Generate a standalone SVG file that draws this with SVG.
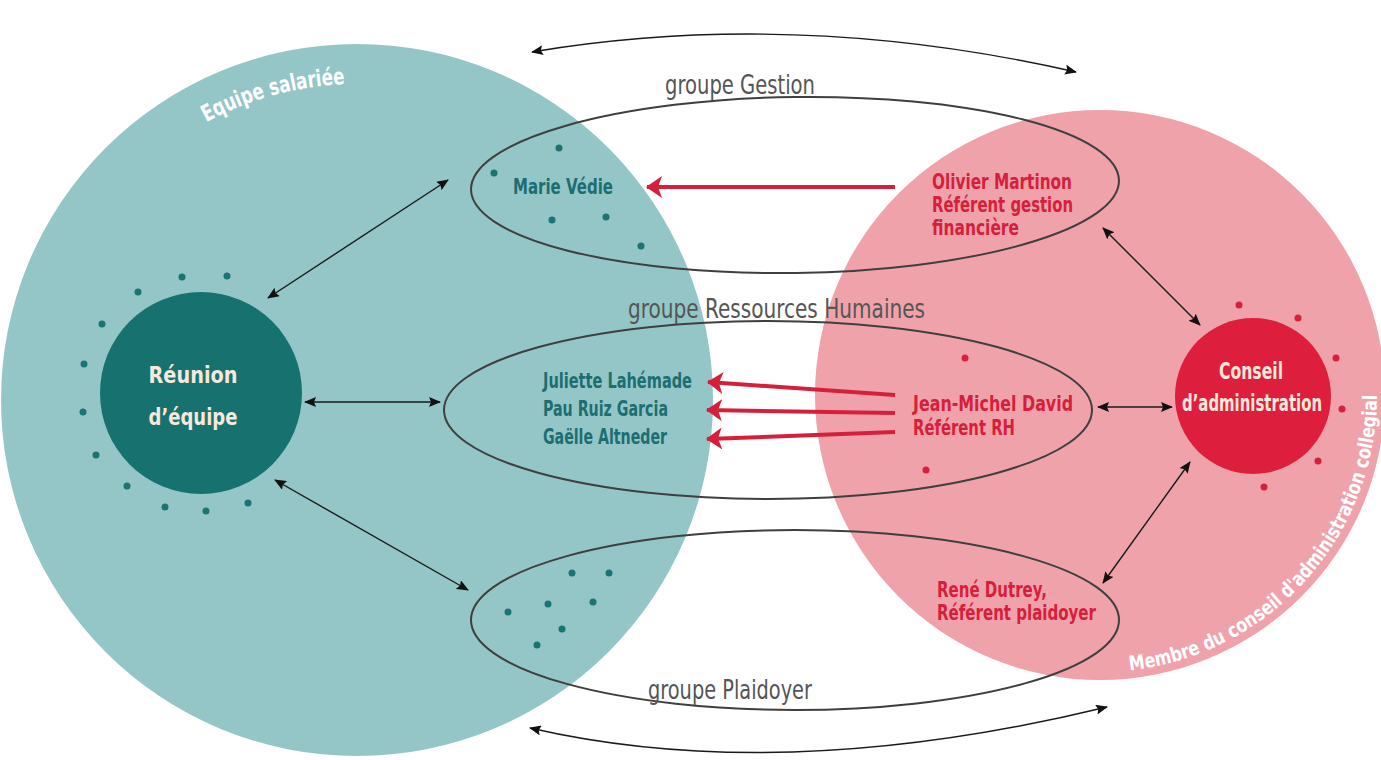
<svg xmlns="http://www.w3.org/2000/svg" width="1381" height="760" viewBox="0 0 1381 760">
<style>
.cond{font-family:"DejaVu Sans Condensed","DejaVu Sans",sans-serif;font-stretch:condensed}
.b{font-weight:bold}
.tealtxt{fill:#1d6e70;font-size:22px}
.redtxt{fill:#d6203b;font-size:21px}
.grp{fill:#555;font-size:27px}
.cream{fill:#f6e8da;font-size:23px}
.white{fill:#ffffff}
.ell{fill:none;stroke:#3f3f3f;stroke-width:2}
.con{fill:none;stroke:#1a1a1a;stroke-width:1.4}
.red{fill:none;stroke:#d6203b;stroke-width:4}
.tdot{fill:#1d7272}
.rdot{fill:#d81f3d}
</style>
<defs>
<marker id="ah" viewBox="0 0 12 10" refX="11" refY="5" markerWidth="12" markerHeight="10" markerUnits="userSpaceOnUse" orient="auto-start-reverse">
<path d="M0,0 L12,5 L0,10 L2,5 Z" fill="#111"/>
</marker>
<marker id="rh" viewBox="0 0 16 22" refX="15" refY="11" markerWidth="16" markerHeight="22" markerUnits="userSpaceOnUse" orient="auto">
<path d="M0,0 L16,11 L0,22 L4,11 Z" fill="#d6203b"/>
</marker>
<path id="arcTeam" d="M41,400 A316,316 0 0 1 673,400"/>
<path id="arcBoard" d="M1100,672 A277,277 0 0 0 1100,118"/>
</defs>

<g id="equipe-salariee">
<circle cx="357" cy="400" r="356" fill="#94c6c8"/>
<text class="cond b white" font-size="23"><textPath href="#arcTeam" startOffset="339" textLength="145" lengthAdjust="spacingAndGlyphs">Equipe salariée</textPath></text>
</g>

<g id="conseil-membres">
<circle cx="1100" cy="395" r="285" fill="#f0a2ab"/>
<text class="cond b white" font-size="20"><textPath href="#arcBoard" startOffset="30" textLength="405" lengthAdjust="spacingAndGlyphs">Membre du conseil d'administration collegial</textPath></text>
</g>

<g id="dots">
<circle class="tdot" cx="182" cy="277" r="3.5"/><circle class="tdot" cx="227" cy="276" r="3.5"/>
<circle class="tdot" cx="138" cy="292" r="3.5"/><circle class="tdot" cx="102" cy="324" r="3.5"/>
<circle class="tdot" cx="84" cy="364" r="3.5"/><circle class="tdot" cx="83" cy="412" r="3.5"/>
<circle class="tdot" cx="96" cy="455" r="3.5"/><circle class="tdot" cx="127" cy="486" r="3.5"/>
<circle class="tdot" cx="165" cy="507" r="3.5"/><circle class="tdot" cx="206" cy="511" r="3.5"/>
<circle class="tdot" cx="248" cy="503" r="3.5"/>
<circle class="tdot" cx="559" cy="148" r="3.5"/><circle class="tdot" cx="494" cy="173" r="3.5"/>
<circle class="tdot" cx="552" cy="220" r="3.5"/><circle class="tdot" cx="606" cy="217" r="3.5"/>
<circle class="tdot" cx="641" cy="246" r="3.5"/>
<circle class="tdot" cx="572" cy="573" r="3.5"/><circle class="tdot" cx="609" cy="573" r="3.5"/>
<circle class="tdot" cx="548" cy="604" r="3.5"/><circle class="tdot" cx="593" cy="602" r="3.5"/>
<circle class="tdot" cx="508" cy="612" r="3.5"/><circle class="tdot" cx="562" cy="629" r="3.5"/>
<circle class="tdot" cx="537" cy="645" r="3.5"/>
<circle class="rdot" cx="1239" cy="305" r="3.5"/><circle class="rdot" cx="1298" cy="318" r="3.5"/>
<circle class="rdot" cx="1336" cy="358" r="3.5"/><circle class="rdot" cx="1342" cy="409" r="3.5"/>
<circle class="rdot" cx="1318" cy="461" r="3.5"/><circle class="rdot" cx="1264" cy="487" r="3.5"/>
<circle class="rdot" cx="965" cy="358" r="3.5"/><circle class="rdot" cx="926" cy="470" r="3.5"/>
</g>

<g id="groupe-gestion">
<ellipse class="ell" cx="795" cy="185" rx="324" ry="88" transform="rotate(-0.8 795 185)"/>
<text class="cond grp" x="665" y="94" textLength="150" lengthAdjust="spacingAndGlyphs">groupe Gestion</text>
<text class="cond b tealtxt" x="513" y="194" font-size="25" textLength="100" lengthAdjust="spacingAndGlyphs">Marie Védie</text>
<text class="cond b redtxt" x="932" y="189" textLength="140" lengthAdjust="spacingAndGlyphs">Olivier Martinon</text>
<text class="cond b redtxt" x="932" y="212" textLength="141" lengthAdjust="spacingAndGlyphs">Référent gestion</text>
<text class="cond b redtxt" x="932" y="235" textLength="87" lengthAdjust="spacingAndGlyphs">financière</text>
</g>

<g id="groupe-rh">
<ellipse class="ell" cx="768" cy="410" rx="324" ry="89"/>
<text class="cond grp" x="628" y="318" textLength="297" lengthAdjust="spacingAndGlyphs">groupe Ressources Humaines</text>
<text class="cond b tealtxt" x="543" y="388" textLength="149" lengthAdjust="spacingAndGlyphs">Juliette Lahémade</text>
<text class="cond b tealtxt" x="543" y="416" textLength="125" lengthAdjust="spacingAndGlyphs">Pau Ruiz Garcia</text>
<text class="cond b tealtxt" x="543" y="444" textLength="124" lengthAdjust="spacingAndGlyphs">Gaëlle Altneder</text>
<text class="cond b redtxt" x="913" y="411" textLength="160" lengthAdjust="spacingAndGlyphs">Jean-Michel David</text>
<text class="cond b redtxt" x="913" y="435" textLength="102" lengthAdjust="spacingAndGlyphs">Référent RH</text>
</g>

<g id="groupe-plaidoyer">
<ellipse class="ell" cx="795" cy="620" rx="324" ry="90"/>
<text class="cond grp" x="648" y="699" textLength="164" lengthAdjust="spacingAndGlyphs">groupe Plaidoyer</text>
<text class="cond b redtxt" x="937" y="597" textLength="110" lengthAdjust="spacingAndGlyphs">René Dutrey,</text>
<text class="cond b redtxt" x="937" y="620" textLength="159" lengthAdjust="spacingAndGlyphs">Référent plaidoyer</text>
</g>

<g id="reunion-equipe">
<circle cx="201" cy="393" r="101" fill="#17716f"/>
<text class="cond b cream" x="193" y="383" font-size="32" text-anchor="middle" textLength="89" lengthAdjust="spacingAndGlyphs">Réunion</text>
<text class="cond b cream" x="193" y="425" font-size="32" text-anchor="middle" textLength="89" lengthAdjust="spacingAndGlyphs">d’équipe</text>
</g>

<g id="conseil-administration">
<circle cx="1253" cy="396" r="78" fill="#dd1e3c"/>
<text class="cond b cream" x="1251" y="379" text-anchor="middle" textLength="64" lengthAdjust="spacingAndGlyphs">Conseil</text>
<text class="cond b cream" x="1252" y="411" text-anchor="middle" textLength="140" lengthAdjust="spacingAndGlyphs">d’administration</text>
</g>

<g id="connectors">
<path class="con" d="M268,298 L448,180" marker-start="url(#ah)" marker-end="url(#ah)"/>
<path class="con" d="M305,402 L440,402" marker-start="url(#ah)" marker-end="url(#ah)"/>
<path class="con" d="M275,480 L468,590" marker-start="url(#ah)" marker-end="url(#ah)"/>
<path class="con" d="M1103,228 L1200,325" marker-start="url(#ah)" marker-end="url(#ah)"/>
<path class="con" d="M1098,407 L1172,407" marker-start="url(#ah)" marker-end="url(#ah)"/>
<path class="con" d="M1190,462 L1103,583" marker-start="url(#ah)" marker-end="url(#ah)"/>
<path class="con" d="M532,52 Q795,8 1076,72" marker-start="url(#ah)" marker-end="url(#ah)"/>
<path class="con" d="M530,728 Q782,786 1107,707" marker-start="url(#ah)" marker-end="url(#ah)"/>
<path class="red" d="M895,187 L647,187" marker-end="url(#rh)"/>
<path class="red" d="M895,395 L708,382" marker-end="url(#rh)"/>
<path class="red" d="M895,413 L707,410" marker-end="url(#rh)"/>
<path class="red" d="M895,432 L707,439" marker-end="url(#rh)"/>
</g>
</svg>
